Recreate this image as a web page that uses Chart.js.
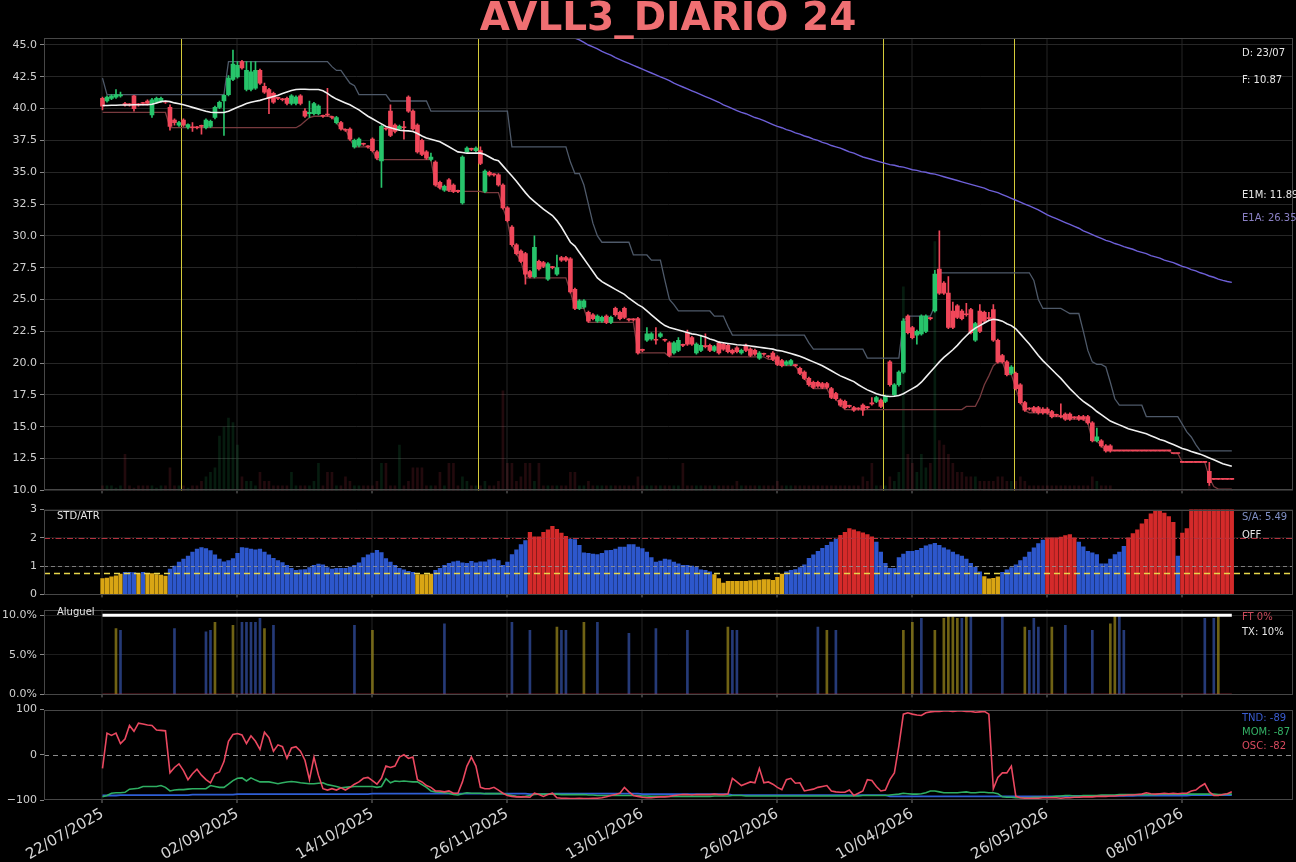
<!DOCTYPE html>
<html><head><meta charset="utf-8">
<script src="https://cdn.jsdelivr.net/npm/chart.js@4.4.1/dist/chart.umd.min.js"></script>
<style>
html,body{margin:0;padding:0;background:#000;}
#wrap{position:relative;width:1296px;height:862px;overflow:hidden;background:#000;font-family:'DejaVu Sans',sans-serif;}
canvas{position:absolute;left:0;}
.ann{position:absolute;font-size:10px;line-height:12px;white-space:nowrap;font-family:'DejaVu Sans',sans-serif;}
#title{position:absolute;left:368px;width:600px;top:-3px;text-align:center;font:bold 39px/39px 'DejaVu Sans',sans-serif;color:#ef6f72;white-space:nowrap;}
</style></head><body>
<div id="wrap">
<canvas id="cMain" width="1296" height="500" style="top:0px"></canvas>
<canvas id="cStd" width="1296" height="104" style="top:500px"></canvas>
<canvas id="cAlu" width="1296" height="104" style="top:600px"></canvas>
<canvas id="cOsc" width="1296" height="162" style="top:700px"></canvas>
<div id="title">AVLL3_DIARIO 24</div>
</div>
<script>
// ---------------- DATA ----------------
const tickLabels = ['22/07/2025','02/09/2025','14/10/2025','26/11/2025','13/01/2026','26/02/2026','10/04/2026','26/05/2026','08/07/2026'];
const tickIdx = [0,30,60,90,120,150,180,210,240];
const lastDate = '23/07';
const eventIdx = [17.5, 83.5, 173.5, 202.5];

const open = [
40.8,40.6,40.8,40.9,41.0,40.4,40.3,41.0,40.3,40.4,
40.6,39.5,40.5,40.6,40.5,40.1,39.1,38.7,39.1,38.55,
38.5,38.5,38.6,38.5,38.6,39.3,40.1,40.6,41.1,42.3,
42.5,43.7,41.5,41.5,41.6,43.0,41.75,41.5,41.2,40.8,
40.7,40.8,40.4,40.4,41.0,39.8,39.6,39.6,39.6,39.4,
39.5,39.3,38.9,38.9,38.3,38.4,37.0,37.1,37.2,37.0,
37.6,36.6,35.9,38.4,39.8,38.7,38.4,38.5,40.9,39.8,
38.7,37.5,36.6,36.0,35.8,34.2,33.6,34.4,34.0,33.5,
32.6,36.6,36.8,36.7,36.7,33.5,35.0,34.8,34.8,34.0,
32.2,30.7,29.3,28.8,28.6,27.2,26.8,28.0,27.9,26.6,
27.5,27.0,28.3,28.3,28.2,25.8,24.3,24.4,24.0,23.8,
23.3,23.3,23.7,23.2,24.3,24.0,24.3,23.4,23.4,23.5,
21.0,21.8,21.9,21.8,22.1,21.8,21.6,20.8,21.0,21.4,
22.4,22.0,20.8,21.0,21.3,21.4,21.0,21.6,21.5,21.4,
21.0,21.2,20.8,21.4,21.1,21.0,20.4,20.7,20.5,20.8,
20.5,20.2,19.9,19.9,19.8,19.6,19.3,18.8,18.5,18.5,
18.4,18.4,18.0,17.6,17.1,17.0,16.6,16.5,16.4,16.7,
16.5,16.8,17.0,17.1,17.0,20.1,17.5,18.3,19.3,23.7,
22.8,22.2,22.3,22.5,23.5,24.1,27.4,26.3,25.5,24.1,
24.5,24.1,23.8,24.2,21.8,24.1,24.0,23.5,24.2,21.8,
20.6,20.1,19.2,19.2,18.3,16.9,16.4,16.5,16.5,16.4,
16.4,16.2,15.9,15.8,16.0,16.0,15.7,15.8,15.8,15.8,
15.3,13.9,13.9,13.5,13.5,13.1,13.1,13.1,13.1,13.1,
13.1,13.1,13.1,13.1,13.1,13.1,13.1,13.1,12.9,12.9,
12.2,12.2,12.2,12.2,12.2,12.2,11.5,10.87,10.87,10.87,
10.87,10.87];
const high = [
40.9,41.0,41.1,41.5,41.3,40.5,40.4,41.05,40.4,40.5,
40.7,40.8,40.9,40.9,40.6,40.3,39.2,39.0,39.2,38.8,
38.9,38.6,38.7,39.2,39.1,40.2,40.6,41.1,42.6,44.6,
43.7,43.8,43.7,43.7,43.7,43.1,42.0,41.6,41.3,40.9,
40.8,40.9,41.1,41.0,41.1,40.0,40.6,40.5,40.3,39.5,
41.6,39.4,39.4,39.0,38.4,38.5,37.6,37.7,37.3,37.1,
37.7,36.7,38.7,38.5,40.3,38.8,38.7,39.0,41.0,39.9,
38.8,37.6,36.7,36.5,35.9,34.3,34.0,34.5,34.1,33.6,
36.3,37.0,36.9,37.0,37.0,35.2,35.1,34.9,34.9,34.1,
32.3,30.8,29.4,28.9,28.7,27.3,30.0,28.1,28.0,27.9,
27.6,28.5,28.4,28.4,28.3,25.9,25.0,25.0,24.1,23.9,
23.8,23.7,23.8,23.7,24.4,24.1,24.4,23.5,23.5,23.6,
21.1,22.8,22.4,22.8,22.4,21.9,21.7,21.7,22.0,21.5,
22.6,22.1,21.6,22.2,22.3,21.5,21.4,21.7,21.6,21.5,
21.1,21.3,21.1,21.5,21.2,21.1,20.9,20.8,20.6,20.9,
20.6,20.3,20.2,20.3,19.9,19.7,19.4,18.9,18.6,18.6,
18.5,18.5,18.1,17.7,17.2,17.1,16.7,16.6,16.5,16.8,
16.6,17.3,17.4,17.2,17.5,20.2,18.4,19.4,23.5,23.8,
22.9,22.6,23.8,23.8,23.6,27.3,30.4,26.4,26.8,24.8,
24.6,24.2,24.7,24.3,23.2,24.6,24.1,24.0,24.6,21.9,
20.7,20.2,19.8,19.3,18.4,17.0,16.5,16.6,16.6,16.5,
16.5,16.3,16.0,16.8,16.1,16.1,15.8,15.9,15.9,15.9,
15.4,14.9,14.0,13.6,13.6,13.1,13.1,13.1,13.1,13.1,
13.1,13.1,13.1,13.1,13.1,13.1,13.1,13.1,12.9,12.9,
12.2,12.2,12.2,12.2,12.2,12.2,12.2,10.87,10.87,10.87,
10.87,10.87];
const low = [
39.9,40.5,40.7,40.8,40.9,40.2,40.2,39.8,40.2,40.3,
40.3,39.3,40.4,40.5,40.4,38.3,38.7,38.6,38.6,38.4,
38.2,38.4,38.0,38.4,38.5,39.2,40.0,37.9,41.0,42.2,
42.4,43.1,41.4,41.4,41.5,41.9,41.2,39.6,40.4,40.7,
40.6,40.3,40.3,40.3,40.3,39.3,39.3,39.5,39.5,39.3,
39.4,39.2,38.8,38.3,38.2,37.5,36.9,37.0,37.1,36.9,
36.6,36.0,33.8,38.3,37.8,38.1,38.3,37.6,39.7,38.3,
36.5,36.3,36.0,35.9,33.9,33.7,33.5,33.5,33.4,33.4,
32.5,36.5,36.7,36.6,35.6,33.4,34.7,34.7,33.9,32.1,
31.1,29.2,28.5,27.9,26.2,26.7,26.7,27.3,27.5,26.5,
27.4,26.9,28.0,28.0,25.5,24.2,24.2,24.3,23.2,23.4,
23.2,23.2,23.1,23.1,23.7,23.4,23.5,23.3,23.3,20.7,
20.9,21.7,21.8,21.5,22.0,21.7,20.5,20.7,20.9,21.3,
21.4,21.4,20.7,20.9,21.2,20.9,20.9,20.7,21.0,20.8,
20.7,20.8,20.7,20.9,20.5,20.6,20.3,20.6,20.4,20.2,
19.8,19.7,19.8,19.8,19.7,19.1,18.7,18.2,18.0,18.1,
18.0,18.0,17.2,17.1,16.6,16.4,16.5,16.2,16.3,15.9,
16.4,16.7,16.9,16.5,16.9,18.2,17.4,18.2,19.2,22.3,
21.9,21.5,22.2,22.4,23.4,24.0,25.4,25.4,22.7,22.7,
23.5,23.4,23.7,22.3,21.7,22.4,23.2,23.4,21.7,20.0,
20.0,19.0,19.1,17.9,16.8,16.2,16.3,16.1,16.0,16.0,
16.0,15.7,15.8,15.7,15.5,15.5,15.6,15.5,15.5,15.2,
13.8,13.8,13.4,13.0,13.0,13.1,13.1,13.1,13.1,13.1,
13.1,13.1,13.1,13.1,13.1,13.1,13.1,13.1,12.9,12.9,
12.2,12.2,12.2,12.2,12.2,12.2,10.4,10.87,10.87,10.87,
10.87,10.87];
const close = [
40.2,40.9,41.0,41.1,41.05,40.3,40.3,40.0,40.3,40.4,
40.4,40.7,40.8,40.8,40.5,38.6,38.9,38.9,38.7,38.75,
38.5,38.5,38.6,39.1,39.0,40.1,40.5,41.05,42.4,43.5,
43.4,43.2,43.0,42.9,43.0,42.0,41.3,40.8,40.5,40.8,
40.7,40.4,41.0,40.9,40.4,39.4,39.7,40.4,40.2,39.4,
39.5,39.3,39.3,38.4,38.3,37.6,37.5,37.6,37.2,37.0,
36.7,36.1,38.6,38.4,37.9,38.2,38.6,38.5,39.8,38.4,
36.6,36.4,36.1,36.2,34.0,33.8,33.9,33.6,33.5,33.5,
36.2,36.9,36.8,36.9,35.7,35.1,34.8,34.8,34.0,32.2,
31.2,29.3,28.6,28.0,27.0,26.8,29.1,27.4,27.6,27.8,
27.5,27.5,28.1,28.1,25.6,24.3,24.9,24.9,23.3,23.5,
23.7,23.6,23.2,23.6,23.8,23.5,23.6,23.4,23.4,20.8,
21.0,22.3,22.3,21.8,22.3,21.8,20.6,21.6,21.8,21.4,
21.5,21.5,21.5,21.4,21.3,21.0,21.3,20.8,21.1,20.9,
20.8,20.9,21.0,21.0,20.6,20.7,20.8,20.7,20.5,20.3,
19.9,19.8,20.1,20.2,19.8,19.2,18.8,18.3,18.1,18.2,
18.1,18.1,17.3,17.2,16.7,16.5,16.6,16.3,16.4,16.3,
16.5,16.8,17.3,16.6,17.4,18.3,18.3,19.3,23.3,22.4,
22.0,22.5,23.7,23.7,23.5,27.0,25.5,25.5,22.8,22.8,
23.6,23.5,23.8,22.4,23.1,22.5,23.3,23.5,21.8,20.1,
20.1,19.1,19.7,18.0,16.9,16.3,16.4,16.2,16.1,16.1,
16.1,15.8,15.9,15.8,15.6,15.6,15.7,15.6,15.6,15.3,
13.9,14.2,13.5,13.1,13.1,13.1,13.1,13.1,13.1,13.1,
13.1,13.1,13.1,13.1,13.1,13.1,13.1,13.1,12.9,12.9,
12.2,12.2,12.2,12.2,12.2,12.2,10.6,10.87,10.87,10.87,
10.87,10.87];
const volume = [
1,1,1,0.5,1,8,1,0.5,1,1,
1,1,0.5,1,1,5,1,1,1,0.5,
1,1,2,3,4,5,12,14,16,15,
10,3,2,2,1,4,2,2,1,1,
1,1,4,1,1,1,1,2,6,1,
4,4,1,1,3,2,1,1,1,1,
1,2,6,6,1,1,10,1,2,5,
5,5,1,1,1,4,1,6,6,1,
3,2,1,1,1,2,1,1,2,22,
6,6,2,3,6,6,2,6,1,1,
1,1,1,1,4,4,1,1,2,1,
1,1,1,1,1,1,1,1,1,3,
1,1,1,1,1,1,1,1,1,6,
1,1,1,1,1,1,1,1,1,1,
1,2,1,1,1,1,1,1,1,1,
2,1,1,1,1,1,1,1,1,1,
1,1,1,1,1,1,1,1,1,3,
2,6,1,1,1,3,2,4,45,8,
6,4,8,5,6,55,11,10,8,6,
4,4,3,3,3,2,2,2,2,3,
3,2,2,2,3,2,1,1,1,1,
1,1,1,1,1,1,1,1,1,1,
3,2,1,1,1,0,0,0,0,0,
0,0,0,0,0,0,0,0,0,0,
0,0,0,0,0,0,2,0,0,0,
0,0];
const media = [
40.25,40.25,40.26,40.27,40.28,40.28,40.29,40.30,40.30,40.30,
40.30,40.35,40.45,40.55,40.6,40.55,40.45,40.38,40.3,40.2,
40.1,40.0,39.9,39.8,39.72,39.7,39.7,39.7,39.8,39.95,
40.1,40.25,40.4,40.5,40.58,40.65,40.75,40.85,40.95,41.05,
41.18,41.3,41.42,41.5,41.52,41.52,41.5,41.5,41.5,41.4,
41.2,40.95,40.75,40.6,40.45,40.3,40.1,39.9,39.65,39.4,
39.2,39.0,38.8,38.6,38.5,38.4,38.3,38.27,38.25,38.2,
38.05,37.85,37.7,37.6,37.5,37.4,37.2,37.0,36.8,36.6,
36.55,36.5,36.5,36.5,36.5,36.4,36.2,36.0,35.9,35.5,
35.1,34.7,34.3,33.85,33.4,33.0,32.7,32.4,32.1,31.85,
31.6,31.2,30.7,30.1,29.5,29.2,28.7,28.2,27.7,27.2,
26.7,26.4,26.2,26.0,25.8,25.6,25.4,25.1,24.85,24.6,
24.4,24.1,23.8,23.5,23.2,22.95,22.8,22.7,22.6,22.5,
22.4,22.3,22.25,22.15,22.05,21.9,21.8,21.65,21.6,21.55,
21.5,21.45,21.42,21.4,21.35,21.3,21.25,21.2,21.15,21.1,
21.0,20.95,20.85,20.75,20.65,20.55,20.4,20.25,20.1,19.95,
19.8,19.6,19.4,19.2,19.0,18.85,18.7,18.55,18.3,18.1,
17.9,17.75,17.6,17.5,17.42,17.38,17.4,17.45,17.6,17.8,
18.0,18.2,18.5,18.9,19.3,19.7,20.1,20.45,20.75,21.05,
21.4,21.8,22.15,22.5,22.75,22.95,23.15,23.35,23.45,23.4,
23.3,23.1,22.95,22.7,22.3,21.9,21.5,21.05,20.6,20.2,
19.85,19.5,19.15,18.8,18.4,18.0,17.65,17.3,17.0,16.75,
16.5,16.2,15.95,15.7,15.45,15.3,15.15,15.0,14.85,14.75,
14.65,14.55,14.45,14.3,14.15,14.0,13.9,13.75,13.6,13.45,
13.3,13.2,13.05,12.95,12.85,12.7,12.55,12.4,12.25,12.1,
12.0,11.89];
const bandaSup = [
42.4,41.1,41.1,41.1,41.1,41.1,41.1,41.1,41.1,41.1,
41.1,41.1,41.1,41.1,41.1,41.1,41.1,41.1,41.1,41.1,
41.1,41.1,41.1,41.1,41.1,41.1,41.1,41.1,43.7,43.7,
43.7,43.7,43.7,43.7,43.7,43.7,43.7,43.7,43.7,43.7,
43.7,43.7,43.7,43.7,43.7,43.7,43.7,43.7,43.7,43.7,
43.7,43.3,43.0,43.0,42.5,42.0,41.8,41.1,41.1,41.1,
41.1,41.1,41.1,41.1,40.6,40.6,40.6,40.6,40.6,40.6,
40.6,40.6,40.6,39.8,39.8,39.8,39.8,39.8,39.8,39.8,
39.8,39.8,39.8,39.8,39.8,39.8,39.8,39.8,39.8,39.8,
39.8,37.0,37.0,37.0,37.0,37.0,37.0,37.0,37.0,37.0,
37.0,37.0,37.0,37.0,35.8,34.9,34.9,34.0,32.5,31.0,
30.0,29.5,29.5,29.5,29.5,29.5,29.5,29.5,28.5,28.5,
28.5,28.5,28.1,28.1,28.1,26.5,25.0,24.6,24.1,24.1,
24.1,24.1,24.1,24.1,24.1,24.1,23.7,23.7,23.7,22.9,
22.2,22.2,22.2,22.2,22.2,22.2,22.2,22.2,22.2,22.2,
22.2,22.2,22.2,22.2,22.2,22.2,22.2,21.6,21.1,21.1,
21.1,21.1,21.1,21.1,21.1,21.1,21.1,21.1,21.1,21.1,
20.4,20.4,20.4,20.4,20.4,20.4,20.4,20.4,23.3,23.7,
23.7,23.7,23.7,23.7,23.7,24.5,27.1,27.1,27.1,27.1,
27.1,27.1,27.1,27.1,27.1,27.1,27.1,27.1,27.1,27.1,
27.1,27.1,27.1,27.1,27.1,27.1,27.1,26.5,25.0,24.3,
24.3,24.3,24.3,24.3,24.1,23.9,23.9,23.9,22.5,21.0,
20.1,19.9,19.9,19.7,18.5,17.2,16.7,16.7,16.7,16.7,
16.7,16.7,15.8,15.8,15.8,15.8,15.8,15.8,15.8,15.8,
15.2,14.6,14.2,13.6,13.1,13.1,13.1,13.1,13.1,13.1,
13.1,13.1];
const bandaInf = [
39.7,39.7,39.7,39.7,39.7,39.7,39.7,39.7,39.7,39.7,
39.7,39.7,39.7,39.7,39.7,38.5,38.5,38.5,38.5,38.5,
38.5,38.5,38.5,38.5,38.5,38.5,38.5,38.5,38.5,38.5,
38.5,38.5,38.5,38.5,38.5,38.5,38.5,38.5,38.5,38.5,
38.5,38.5,38.5,38.5,38.7,39.0,39.3,39.4,39.4,39.4,
39.4,39.4,38.9,38.4,38.4,37.6,37.0,37.0,37.0,37.0,
36.7,36.0,36.0,36.0,36.0,36.0,36.0,36.0,36.0,36.0,
36.0,36.0,36.0,36.0,34.0,33.7,33.7,33.5,33.5,33.5,
33.5,33.5,33.5,33.5,33.5,33.4,33.4,33.4,33.4,32.2,
31.2,29.3,28.6,28.0,26.7,26.7,26.7,26.7,26.7,26.7,
26.7,26.7,26.7,26.7,25.6,24.3,24.3,24.3,23.2,23.2,
23.2,23.2,23.2,23.2,23.2,23.2,23.2,23.2,23.2,20.8,
20.8,20.8,20.8,20.8,20.8,20.8,20.5,20.5,20.5,20.5,
20.5,20.5,20.5,20.5,20.5,20.5,20.5,20.5,20.5,20.5,
20.5,20.5,20.5,20.5,20.5,20.5,20.5,20.5,20.3,20.3,
19.9,19.8,19.8,19.8,19.8,19.2,18.8,18.3,18.0,18.0,
18.0,18.0,17.3,17.2,16.7,16.35,16.35,16.35,16.35,16.35,
16.35,16.35,16.35,16.35,16.35,16.35,16.35,16.35,16.35,16.35,
16.35,16.35,16.35,16.35,16.35,16.35,16.35,16.35,16.35,16.35,
16.35,16.35,16.6,16.6,16.6,17.3,18.3,19.0,19.8,20.1,
20.1,19.1,19.1,18.0,16.9,16.3,16.1,16.1,16.1,16.1,
16.1,15.8,15.8,15.8,15.6,15.6,15.6,15.6,15.6,15.3,
13.9,13.9,13.5,13.1,13.1,13.1,13.1,13.1,13.1,13.1,
13.1,13.1,13.1,13.1,13.1,13.1,13.1,13.1,12.9,12.9,
12.2,12.2,12.2,12.2,12.2,12.2,11.0,10.3,10.1,10.1,
10.1,10.1];
const e1aStart = 100;
const e1a = [
46.4,46.2,46.0,45.85,45.7,45.55,45.4,45.2,45.0,44.85,
44.7,44.5,44.35,44.2,44.0,43.85,43.7,43.55,43.4,43.25,
43.1,42.95,42.8,42.65,42.5,42.35,42.2,42.0,41.85,41.7,
41.55,41.4,41.25,41.1,40.95,40.8,40.65,40.5,40.3,40.15,
40.0,39.85,39.7,39.6,39.45,39.3,39.2,39.05,38.9,38.75,
38.6,38.5,38.35,38.25,38.1,38.0,37.85,37.75,37.6,37.5,
37.35,37.25,37.1,37.0,36.9,36.75,36.6,36.5,36.35,36.2,
36.1,36.0,35.9,35.8,35.7,35.6,35.55,35.45,35.4,35.3,
35.2,35.15,35.05,35.0,34.9,34.85,34.75,34.65,34.55,34.45,
34.35,34.25,34.15,34.05,33.95,33.85,33.75,33.6,33.5,33.4,
33.25,33.1,32.95,32.8,32.65,32.5,32.35,32.2,32.05,31.85,
31.65,31.5,31.35,31.2,31.05,30.9,30.75,30.6,30.4,30.25,
30.1,29.95,29.8,29.65,29.55,29.4,29.3,29.15,29.05,28.95,
28.8,28.7,28.6,28.45,28.35,28.25,28.1,28.0,27.9,27.75,
27.6,27.5,27.35,27.25,27.1,27.0,26.85,26.75,26.6,26.5,
26.42,26.35];
const stdAtr = [
0.56,0.58,0.62,0.66,0.72,0.78,0.78,0.77,0.74,0.78,
0.74,0.74,0.70,0.68,0.65,0.90,1.00,1.14,1.25,1.36,
1.50,1.60,1.66,1.62,1.55,1.40,1.25,1.15,1.20,1.27,
1.45,1.66,1.64,1.60,1.58,1.60,1.50,1.40,1.28,1.20,
1.13,1.03,0.92,0.85,0.87,0.88,0.95,1.03,1.07,1.05,
0.95,0.90,0.92,0.92,0.92,0.97,1.03,1.12,1.30,1.40,
1.46,1.56,1.48,1.27,1.14,1.03,0.92,0.87,0.82,0.78,
0.70,0.70,0.70,0.72,0.85,0.92,1.03,1.10,1.15,1.18,
1.12,1.10,1.17,1.12,1.15,1.15,1.22,1.25,1.20,1.03,
1.14,1.41,1.58,1.76,1.90,2.20,2.04,2.04,2.20,2.28,
2.41,2.30,2.17,2.05,1.96,1.94,1.74,1.47,1.45,1.43,
1.41,1.45,1.55,1.56,1.60,1.67,1.67,1.76,1.76,1.67,
1.62,1.50,1.30,1.14,1.18,1.25,1.22,1.14,1.08,1.03,
1.03,1.00,0.96,0.87,0.85,0.80,0.70,0.56,0.40,0.46,
0.46,0.46,0.46,0.46,0.48,0.49,0.51,0.52,0.52,0.50,
0.60,0.72,0.80,0.85,0.88,0.95,1.05,1.28,1.40,1.52,
1.63,1.74,1.85,1.96,2.09,2.20,2.33,2.28,2.22,2.18,
2.12,2.04,1.85,1.50,1.10,0.92,0.92,1.30,1.43,1.52,
1.52,1.56,1.63,1.72,1.76,1.81,1.74,1.65,1.58,1.50,
1.41,1.36,1.25,1.10,0.96,0.80,0.63,0.55,0.57,0.62,
0.78,0.87,0.95,1.05,1.20,1.32,1.50,1.65,1.80,1.92,
2.00,2.00,2.00,2.03,2.08,2.12,2.00,1.85,1.68,1.52,
1.47,1.41,1.08,1.08,1.25,1.41,1.50,1.70,2.00,2.15,
2.28,2.50,2.66,2.85,2.96,2.96,2.88,2.75,2.55,1.36,
2.17,2.33,3.2,3.5,3.8,4.0,4.3,4.6,4.9,5.1,
5.3,5.49];
const aluguelIdxY = [3,25,29,36,60,101,107,139,161,178,180,185,187,188,189,190,192,205,211,224,225,248];
const aluguelValY = [8.3,9.1,8.7,8.3,8.1,8.5,9.1,8.5,8.1,8.1,9.1,8.1,9.6,10.0,9.8,9.6,10.0,8.5,8.5,8.9,10.0,10.0];
const aluguelIdxB = [4,16,23,24,31,32,33,34,35,38,56,76,91,95,102,103,110,117,123,130,140,141,159,163,182,191,193,200,206,207,208,214,220,226,227,245,247];
const aluguelValB = [8.1,8.3,7.9,8.1,9.1,9.1,9.1,9.1,9.6,8.7,8.7,8.9,9.1,8.1,8.1,8.1,9.1,7.7,8.3,8.1,8.1,8.1,8.5,8.1,9.6,9.6,10.0,10.0,8.1,9.6,8.5,8.7,8.1,10.0,8.1,9.6,9.6];
const taxaAluguel = 10;
const ftAluguel = 0;
const osc = [
-30,48,43,48,25,35,65,52,70,68,
66,65,55,54,53,-40,-28,-20,-35,-55,
-42,-32,-45,-55,-62,-42,-38,-15,30,45,
47,44,25,42,30,12,50,38,8,22,
18,-8,15,18,8,-12,-55,-5,-45,-75,
-78,-75,-78,-73,-78,-72,-65,-60,-52,-50,
-57,-65,-52,-25,-28,-25,-5,0,-8,-5,
-55,-60,-68,-72,-80,-80,-82,-80,-85,-85,
-60,-25,-5,-25,-72,-75,-75,-72,-78,-85,
-90,-92,-93,-93,-93,-94,-85,-88,-92,-88,
-85,-95,-96,-96,-97,-97,-96,-97,-97,-96,
-96,-95,-93,-90,-88,-85,-72,-82,-90,-92,
-94,-95,-95,-94,-93,-93,-92,-90,-89,-88,
-88,-89,-88,-88,-88,-88,-87,-88,-88,-87,
-52,-60,-68,-64,-60,-62,-30,-62,-60,-65,
-72,-77,-55,-52,-63,-62,-80,-78,-76,-72,
-70,-68,-80,-82,-83,-83,-78,-90,-85,-80,
-55,-57,-70,-80,-78,-55,-40,20,90,93,
90,88,87,93,95,96,96,97,97,96,
97,97,96,96,94,95,96,90,-75,-50,
-40,-40,-25,-92,-95,-96,-96,-96,-96,-95,
-95,-95,-95,-96,-95,-95,-94,-94,-93,-93,
-93,-92,-92,-92,-91,-91,-90,-90,-89,-89,
-88,-87,-84,-86,-87,-86,-85,-86,-85,-86,
-85,-85,-80,-78,-70,-64,-82,-90,-90,-88,
-86,-82];
const mom = [
-93,-90,-85,-84,-84,-83,-76,-75,-74,-70,
-70,-70,-70,-68,-72,-80,-78,-77,-77,-76,
-75,-75,-75,-75,-68,-70,-72,-72,-65,-57,
-52,-51,-58,-51,-56,-60,-60,-60,-62,-64,
-62,-60,-59,-60,-62,-63,-64,-64,-63,-62,
-66,-68,-70,-73,-72,-71,-70,-70,-70,-70,
-70,-72,-70,-53,-62,-58,-59,-58,-59,-60,
-60,-66,-72,-80,-82,-83,-84,-85,-88,-89,
-86,-84,-85,-85,-85,-86,-86,-86,-86,-86,
-88,-90,-92,-93,-92,-90,-88,-87,-87,-87,
-87,-87,-88,-88,-88,-88,-88,-88,-89,-89,
-90,-90,-90,-90,-90,-90,-90,-90,-90,-90,
-91,-91,-92,-92,-92,-92,-92,-92,-92,-92,
-92,-92,-92,-92,-92,-92,-91,-91,-91,-91,
-90,-90,-90,-91,-91,-91,-91,-91,-91,-91,
-91,-91,-91,-91,-91,-91,-91,-91,-91,-91,
-91,-91,-91,-91,-91,-91,-91,-91,-91,-90,
-90,-90,-90,-90,-90,-89,-88,-87,-85,-86,
-87,-87,-86,-84,-80,-80,-82,-84,-84,-84,
-84,-83,-82,-84,-84,-83,-83,-84,-84,-86,
-93,-94,-94,-95,-95,-95,-95,-94,-94,-94,
-94,-93,-92,-91,-90,-90,-91,-91,-90,-90,
-90,-90,-89,-89,-89,-89,-88,-88,-88,-88,
-88,-88,-88,-88,-88,-87,-87,-87,-87,-87,
-87,-87,-87,-87,-87,-87,-87,-87,-88,-88,
-87,-87];
const tnd = [
-90,-90,-90,-90,-89,-89,-89,-89,-89,-89,
-89,-89,-89,-89,-89,-89,-89,-89,-89,-89,
-88,-88,-88,-88,-88,-88,-88,-88,-88,-88,
-87,-87,-87,-87,-87,-87,-87,-87,-87,-87,
-87,-87,-87,-87,-87,-87,-87,-87,-87,-87,
-87,-87,-87,-87,-87,-87,-87,-87,-87,-87,
-86,-86,-86,-86,-86,-86,-86,-86,-86,-86,
-86,-86,-86,-86,-86,-86,-86,-86,-86,-86,
-86,-86,-86,-86,-86,-86,-86,-86,-86,-86,
-86,-86,-86,-86,-86,-87,-87,-87,-87,-87,
-86,-86,-86,-86,-86,-86,-86,-86,-86,-86,
-86,-86,-86,-86,-86,-86,-86,-86,-86,-86,
-87,-87,-87,-87,-87,-87,-87,-87,-87,-87,
-87,-87,-87,-87,-87,-87,-87,-87,-87,-87,
-89,-89,-89,-89,-89,-89,-89,-89,-89,-89,
-89,-89,-89,-89,-89,-89,-89,-89,-89,-89,
-89,-89,-89,-89,-89,-89,-89,-89,-89,-89,
-89,-89,-89,-89,-89,-92,-92,-92,-92,-92,
-92,-92,-92,-92,-92,-92,-92,-92,-92,-92,
-92,-92,-92,-92,-92,-92,-92,-92,-92,-92,
-92,-92,-92,-92,-92,-92,-92,-92,-92,-92,
-92,-92,-92,-92,-92,-91,-91,-91,-91,-91,
-91,-91,-91,-91,-91,-91,-91,-91,-91,-91,
-90,-90,-90,-90,-90,-90,-90,-90,-90,-90,
-90,-90,-89,-89,-89,-89,-89,-89,-89,-89,
-89,-89];
const mainTicks = [10,12.5,15,17.5,20,22.5,25,27.5,30,32.5,35,37.5,40,42.5,45];
const stdTicks = [0,1,2,3];
const aluTicks = [0,5,10];
const oscTicks = [-100,0,100];
const stdLevels = {high:2, mid:1, low:0.75};
const saValue = 5.49;

// ---------------- STYLE / HELPERS ----------------
Chart.defaults.font.family = "'DejaVu Sans', sans-serif";
const N = close.length;
const idx = close.map((_, i) => i);
const X_MIN = -13, X_MAX = 264.6;
const GREEN = '#27c46b', RED = '#f0475a';
const candleColors = idx.map(i => close[i] > open[i] ? GREEN : RED);
const volColors = idx.map(i => close[i] > open[i] ? 'rgba(39,196,107,0.14)' : 'rgba(240,71,90,0.14)');
const stdColors = stdAtr.map(v => v >= stdLevels.high ? '#d42a2a' : (v < stdLevels.low ? '#d9a514' : '#2d57cc'));
const pts = arr => arr.map((v, i) => ({x: i, y: v}));

function xScale(h, labels) {
  return {
    type: 'linear', min: X_MIN, max: X_MAX, offset: false,
    afterBuildTicks: s => { s.ticks = tickIdx.map(v => ({value: v})); },
    afterFit: s => { s.height = h; },
    border: {display: false},
    grid: {offset: false, color: '#121212', lineWidth: 2, drawTicks: true, tickLength: 3, tickColor: '#777', tickWidth: 1},
    ticks: labels ? {display: true, autoSkip: false, minRotation: 30, maxRotation: 30, color: '#d6d6d6',
      font: {size: 15}, padding: 2, callback: (v, i) => tickLabels[i]} : {display: false}
  };
}
function yScale(min, max, ticks, fmt, gridColor) {
  return {
    position: 'left', min, max,
    afterBuildTicks: s => { s.ticks = ticks.map(v => ({value: v})); },
    afterFit: s => { s.width = 44; },
    border: {display: false},
    grid: {color: gridColor, lineWidth: 1, drawTicks: true, tickLength: 4, tickColor: '#888'},
    ticks: {color: '#d0d0d0', font: {size: 11}, padding: 3, callback: fmt}
  };
}
const framePlugin = {id: 'frame', afterDraw(chart) {
  const {ctx, chartArea: a} = chart;
  ctx.save(); ctx.strokeStyle = '#474747'; ctx.lineWidth = 1;
  ctx.strokeRect(Math.round(a.left) + 0.5, Math.round(a.top) + 0.5, Math.round(a.right - a.left) - 1, Math.round(a.bottom - a.top) - 1);
  ctx.restore();
}};
function hLines(lines, before) {
  const draw = chart => {
    const {ctx, chartArea: a, scales: {y}} = chart;
    ctx.save();
    lines.forEach(l => {
      const py = Math.round(y.getPixelForValue(l.v)) + 0.5;
      ctx.strokeStyle = l.c; ctx.lineWidth = l.w; ctx.setLineDash(l.d);
      ctx.beginPath(); ctx.moveTo(a.left, py); ctx.lineTo(a.right, py); ctx.stroke();
    });
    ctx.restore();
  };
  return before ? {id: 'hlb', beforeDatasetsDraw: draw} : {id: 'hla', afterDatasetsDraw: draw};
}
const eventPlugin = {id: 'events', beforeDatasetsDraw(chart) {
  const {ctx, chartArea: a, scales: {x}} = chart;
  ctx.save(); ctx.strokeStyle = '#d4ca3a'; ctx.lineWidth = 1;
  eventIdx.forEach(v => {
    const px = Math.round(x.getPixelForValue(v)) + 0.5;
    ctx.beginPath(); ctx.moveTo(px, a.top); ctx.lineTo(px, a.bottom); ctx.stroke();
  });
  ctx.restore();
}};
const common = {
  responsive: false, devicePixelRatio: 1, animation: false, events: [],
  plugins: {legend: {display: false}, tooltip: {enabled: false}, title: {display: false}}
};

// ---------------- MAIN PANEL ----------------
new Chart(document.getElementById('cMain'), {
  type: 'bar',
  data: {datasets: [
    {type: 'line', data: pts(media), borderColor: '#f0f0f0', borderWidth: 1.6, pointRadius: 0, tension: 0, order: 0},
    {type: 'bar', data: idx.map(i => ({x: i, y: [Math.min(open[i], close[i]), Math.max(open[i], close[i])]})),
      backgroundColor: candleColors, barThickness: 4, minBarLength: 1, grouped: false, order: 1},
    {type: 'bar', data: idx.map(i => ({x: i, y: [low[i], high[i]]})), backgroundColor: candleColors,
      barThickness: 1, grouped: false, order: 2},
    {type: 'line', data: pts(bandaSup), borderColor: '#4e5969', borderWidth: 1.3, pointRadius: 0, tension: 0, order: 3},
    {type: 'line', data: pts(bandaInf), borderColor: '#773a3e', borderWidth: 1.3, pointRadius: 0, tension: 0, order: 3},
    {type: 'line', data: e1a.map((v, k) => ({x: e1aStart + k, y: v})), borderColor: '#6e60d8', borderWidth: 1.4, pointRadius: 0, tension: 0, order: 3},
    {type: 'bar', yAxisID: 'yv', data: pts(volume), backgroundColor: volColors, barThickness: 2, grouped: false, order: 6}
  ]},
  options: Object.assign({}, common, {
    layout: {padding: {top: 38, right: 3, left: 0, bottom: 0}},
    scales: {
      x: xScale(3, false),
      y: yScale(10, 45.55, mainTicks, v => v.toFixed(1), '#262626'),
      yv: {display: false, min: 0, max: 100}
    }
  }),
  plugins: [eventPlugin, framePlugin]
});

// ---------------- STD/ATR PANEL ----------------
new Chart(document.getElementById('cStd'), {
  type: 'bar',
  data: {datasets: [
    {data: pts(stdAtr), backgroundColor: stdColors, barThickness: 3.6, grouped: false}
  ]},
  options: Object.assign({}, common, {
    layout: {padding: {top: 7, right: 3, left: 0, bottom: 0}},
    scales: {x: xScale(6, false), y: yScale(0, 3, stdTicks, v => String(v), '#181818')}
  }),
  plugins: [hLines([
    {v: stdLevels.high, c: '#b4323f', w: 1, d: [6, 2, 1.5, 2]},
    {v: stdLevels.mid, c: 'rgba(150,150,150,0.8)', w: 1, d: [4, 3]},
    {v: stdLevels.low, c: '#e8d64a', w: 1.5, d: [6, 4]}
  ], false), framePlugin]
});

// ---------------- ALUGUEL PANEL ----------------
new Chart(document.getElementById('cAlu'), {
  type: 'bar',
  data: {datasets: [
    {type: 'line', data: idx.map(i => ({x: i, y: ftAluguel})), borderColor: '#d23a4c', borderWidth: 1.5, pointRadius: 0, order: 0},
    {type: 'line', data: idx.map(i => ({x: i, y: taxaAluguel})), borderColor: '#ffffff', borderWidth: 3, pointRadius: 0, order: 0},
    {data: aluguelIdxY.map((v, k) => ({x: v, y: aluguelValY[k]})), backgroundColor: 'rgba(170,150,30,0.65)', barThickness: 2, grouped: false, order: 1},
    {data: aluguelIdxB.map((v, k) => ({x: v, y: aluguelValB[k]})), backgroundColor: 'rgba(52,82,170,0.7)', barThickness: 2, grouped: false, order: 1}
  ]},
  options: Object.assign({}, common, {
    layout: {padding: {top: 6, right: 3, left: 0, bottom: 0}},
    scales: {x: xScale(6, false), y: yScale(0, 10.7, aluTicks, v => v.toFixed(1) + '%', '#1d1d1d')}
  }),
  plugins: [framePlugin]
});

// ---------------- OSCILLATOR PANEL ----------------
new Chart(document.getElementById('cOsc'), {
  type: 'line',
  data: {datasets: [
    {data: pts(osc), borderColor: '#ea4860', borderWidth: 1.6, pointRadius: 0, tension: 0, order: 0},
    {data: pts(mom), borderColor: '#2fae62', borderWidth: 1.6, pointRadius: 0, tension: 0, order: 1},
    {data: pts(tnd), borderColor: '#2f5fd6', borderWidth: 1.8, pointRadius: 0, tension: 0, order: 2}
  ]},
  options: Object.assign({}, common, {
    layout: {padding: {top: 8, right: 3, left: 0, bottom: 0}},
    scales: {x: xScale(62, true), y: yScale(-100, 100, oscTicks, v => String(v).replace('-', '\u2212'), 'rgba(0,0,0,0)')}
  }),
  plugins: [hLines([{v: 0, c: '#8c8c8c', w: 1.2, d: [5, 4]}], true), framePlugin]
});

// ---------------- TEXT ANNOTATIONS ----------------
const wrap = document.getElementById('wrap');
function ann(text, left, cy, color) {
  const d = document.createElement('div');
  d.className = 'ann'; d.textContent = text;
  d.style.left = left + 'px'; d.style.top = (cy - 6) + 'px'; d.style.color = color;
  wrap.appendChild(d);
}
ann('D: ' + lastDate, 1242, 53, '#e6e6e6');
ann('F: ' + close[N - 1].toFixed(2), 1242, 80, '#e6e6e6');
ann('E1M: ' + media[N - 1].toFixed(2), 1242, 195, '#e6e6e6');
ann('E1A: ' + e1a[e1a.length - 1].toFixed(2), 1242, 218, '#8a80c4');
ann('STD/ATR', 57, 516, '#e6e6e6');
ann('S/A: ' + saValue.toFixed(2), 1242, 517, '#7f8fc4');
ann('OFF', 1242, 535, '#e6e6e6');
ann('Aluguel', 57, 612, '#e6e6e6');
ann('FT ' + ftAluguel + '%', 1242, 617, '#c84a5a');
ann('TX: ' + taxaAluguel + '%', 1242, 632, '#e6e6e6');
ann('TND: ' + tnd[N - 1], 1242, 718, '#3a5cd0');
ann('MOM: ' + mom[N - 1], 1242, 732, '#33b065');
ann('OSC: ' + osc[N - 1], 1242, 746, '#d84a5e');
</script>
</body></html>
